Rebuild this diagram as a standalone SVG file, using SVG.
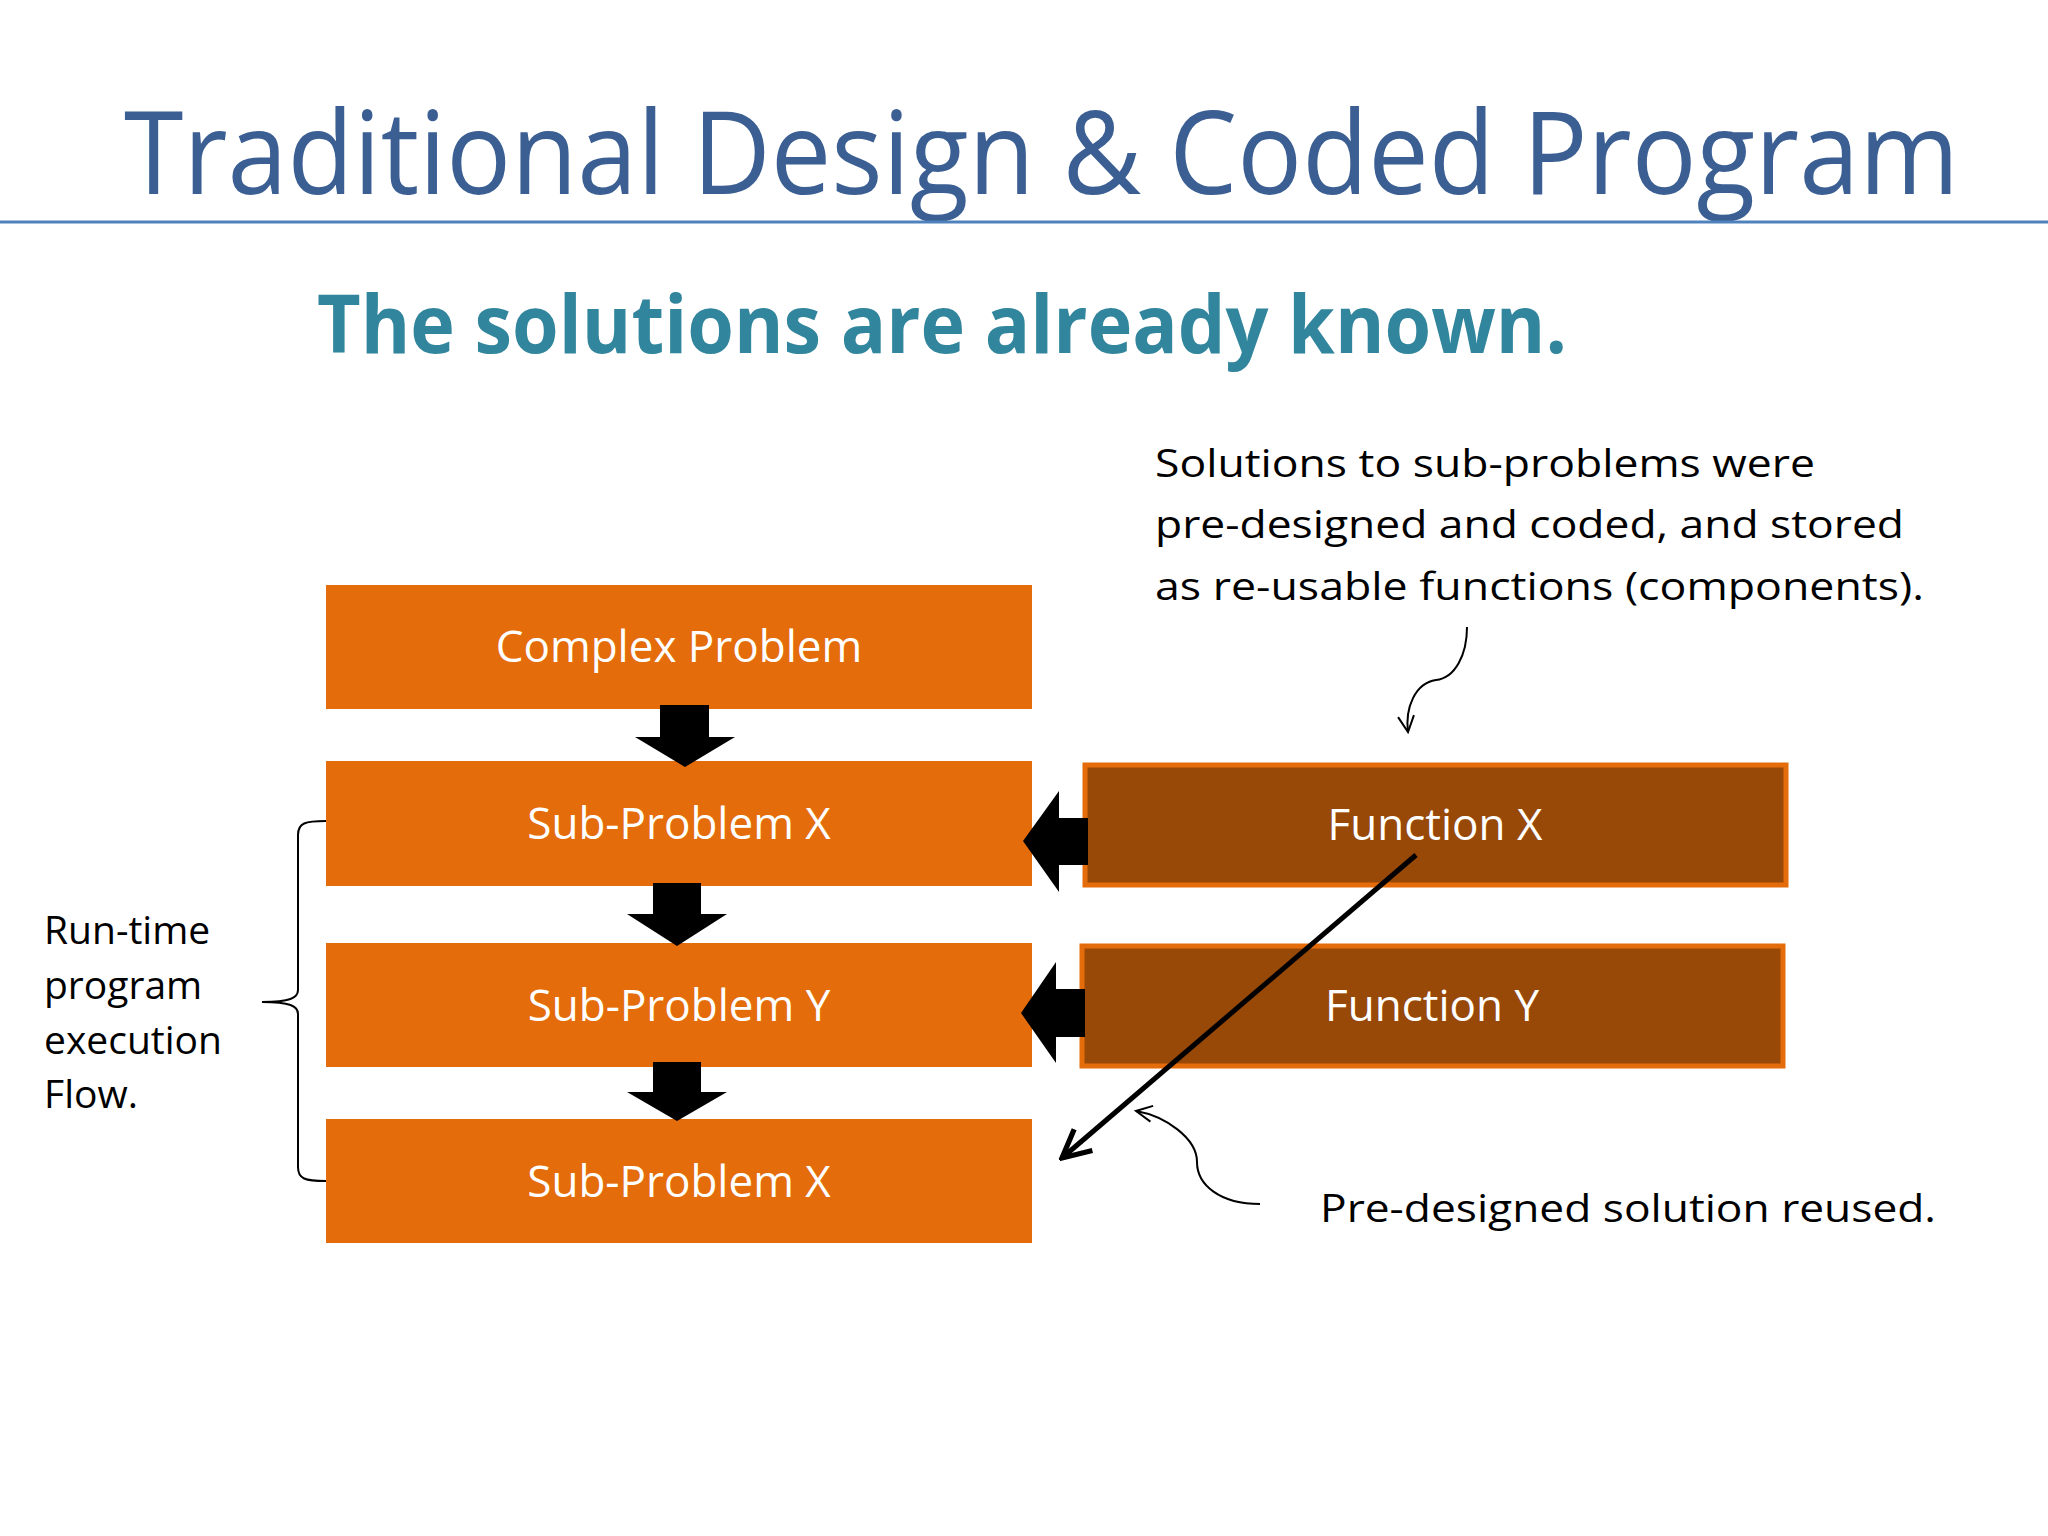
<svg xmlns="http://www.w3.org/2000/svg" width="2048" height="1536" viewBox="0 0 2048 1536">
<defs>
<style>
text{font-family:"Open Sans","Noto Sans","Liberation Sans",sans-serif}
.box{fill:#E46C0A}
.fn{fill:#984807;stroke:#E46C0A;stroke-width:5}
.bt{fill:#fff;font-size:44px;text-anchor:middle}
.blk{fill:#000}
.t{font-size:39px;fill:#000}
.thin{fill:none;stroke:#000;stroke-width:2}
</style>
<marker id="open" viewBox="0 0 20 20" refX="18" refY="10" markerWidth="20" markerHeight="20" markerUnits="userSpaceOnUse" orient="auto"><path d="M2,2 L18,10 L2,18" fill="none" stroke="#000" stroke-width="2"/></marker>
<marker id="big" viewBox="0 0 20 20" refX="18" refY="10" markerWidth="7" markerHeight="7" orient="auto"><path d="M2,2 L18,10 L2,18" fill="none" stroke="#000" stroke-width="3"/></marker>
</defs>
<rect width="2048" height="1536" fill="#fff"/>
<text x="124" y="194" font-size="116" fill="#3B5F93" textLength="1835" lengthAdjust="spacingAndGlyphs">Traditional Design &amp; Coded Program</text>
<line x1="0" y1="222" x2="2048" y2="222" stroke="#4F81BD" stroke-width="3"/>
<text x="317" y="353" font-size="80" font-weight="bold" fill="#31859C" textLength="1250" lengthAdjust="spacingAndGlyphs">The solutions are already known.</text>

<g id="complex"><rect class="box" x="326" y="585" width="706" height="124"/><text class="bt" x="679" y="662">Complex Problem</text></g>
<g id="subx1"><rect class="box" x="326" y="761" width="706" height="125"/><text class="bt" x="679" y="839">Sub-Problem X</text></g>
<g id="suby"><rect class="box" x="326" y="943" width="706" height="124"/><text class="bt" x="679" y="1021">Sub-Problem Y</text></g>
<g id="subx2"><rect class="box" x="326" y="1119" width="706" height="124"/><text class="bt" x="679" y="1197">Sub-Problem X</text></g>
<g id="funcx"><rect class="fn" x="1085" y="765" width="701" height="120"/><text class="bt" x="1435" y="840">Function X</text></g>
<g id="funcy"><rect class="fn" x="1082" y="946" width="701" height="120"/><text class="bt" x="1432" y="1021">Function Y</text></g>

<g id="connectors">
<polygon class="blk" points="660,705 709,705 709,737 735,737 685,767 635,737 660,737"/>
<polygon class="blk" points="653,883 701,883 701,914 727,914 677,946 627,914 653,914"/>
<polygon class="blk" points="653,1062 701,1062 701,1092 727,1092 677,1121 627,1092 653,1092"/>
<polygon class="blk" points="1088,818 1059,818 1059,791 1023,841 1059,892 1059,865 1088,865"/>
<polygon class="blk" points="1085,989 1056,989 1056,962 1021,1013 1056,1063 1056,1037 1085,1037"/>
<line x1="1416" y1="855" x2="1062" y2="1158" stroke="#000" stroke-width="5" marker-end="url(#big)"/>
<path class="thin" d="M1467,627 C1467,655 1455,678 1436,680 C1415,683 1405,708 1408,732" marker-end="url(#open)"/>
<path class="thin" d="M1260,1204 C1220,1204 1197,1185 1197,1162 C1197,1138 1165,1116 1136,1111" marker-end="url(#open)"/>
<path class="thin" d="M326,821 C305,821 298,823 298,835 L298,990 C298,998 290,1002 262,1002 C290,1002 298,1006 298,1014 L298,1167 C298,1179 305,1181 326,1181"/>
</g>

<text class="t" x="44" y="944">Run-time</text>
<text class="t" x="44" y="999">program</text>
<text class="t" x="44" y="1054">execution</text>
<text class="t" x="44" y="1108">Flow.</text>
<text class="t" x="1155" y="477" font-size="44" textLength="660" lengthAdjust="spacingAndGlyphs">Solutions to sub-problems were</text>
<text class="t" x="1155" y="538" font-size="44" textLength="749" lengthAdjust="spacingAndGlyphs">pre-designed and coded, and stored</text>
<text class="t" x="1155" y="600" font-size="44" textLength="769" lengthAdjust="spacingAndGlyphs">as re-usable functions (components).</text>
<text class="t" x="1320" y="1222" font-size="44" textLength="616" lengthAdjust="spacingAndGlyphs">Pre-designed solution reused.</text>
</svg>
